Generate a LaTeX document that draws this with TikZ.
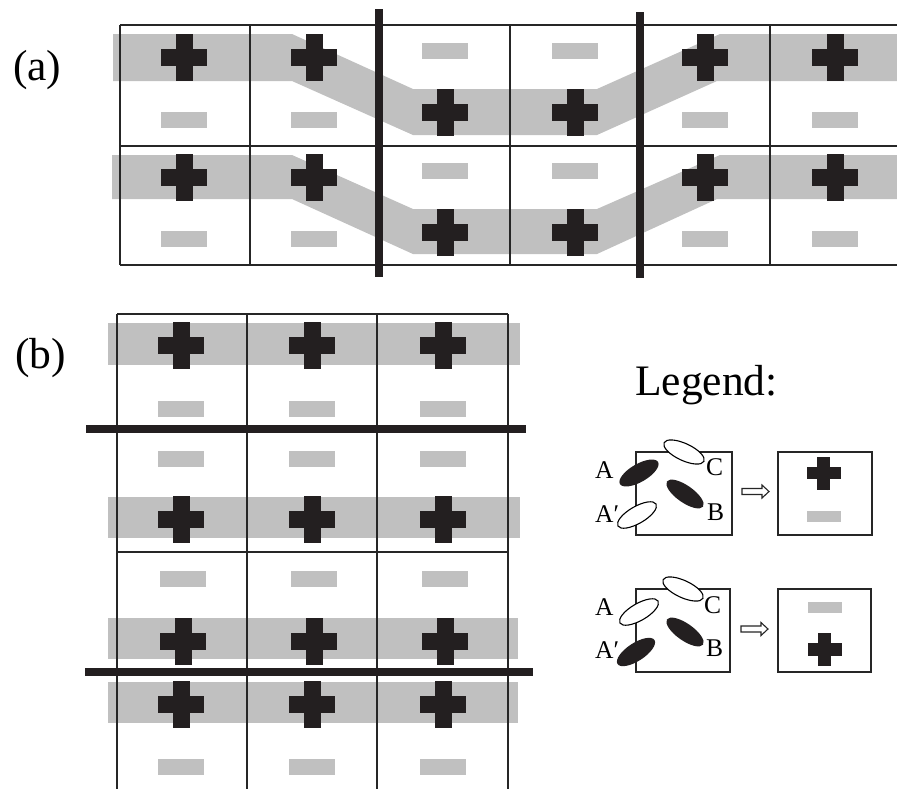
\documentclass[tikz,border=0pt]{standalone}
\usepackage{fontspec}
\setmainfont{Liberation Serif}
\begin{document}
\begin{tikzpicture}[x=1pt,y=-1pt,
  thin line/.style={draw=black!85,line width=1.4pt},
  thick bar/.style={draw=dk,line width=8pt},
  band/.style={fill=gr},
  pls/.pic={\fill[dk] (-23,-8.5) rectangle (23,8.5); \fill[dk] (-8.5,-23.5) rectangle (8.5,23.5);},
  mns/.pic={\fill[gr] (-23,-8) rectangle (23,8);},
  spls/.pic={\fill[dk] (-17,-6.2) rectangle (17,6.2); \fill[dk] (-6.5,-16.5) rectangle (6.5,16.5);},
  smns/.pic={\fill[gr] (-17,-5.5) rectangle (17,5.5);},
  lbl/.style={anchor=base west,inner sep=0pt,font=\fontsize{43.5}{48}\selectfont},
  let/.style={anchor=base west,inner sep=0pt,font=\fontsize{25.5}{28}\selectfont},
  lbox/.style={draw=black!85,line width=1.3pt},
  openell/.style={draw=black,fill=white,line width=1.1pt},
  fillell/.style={fill=dk},
  harrow/.style={draw=black!85,fill=white,line width=1.1pt}
]
\definecolor{dk}{HTML}{231F20}
\definecolor{gr}{HTML}{C0C0C0}
\clip (0,0) rectangle (897,788);
\fill[white] (0,0) rectangle (897,788);

% ---------------- (a) ----------------
\node[lbl] (la) at (13,80) {(a)};
\fill[band] (113,34) -- (292,34) -- (413,89) -- (597,89) -- (720,34) -- (900,34)
  -- (900,81) -- (717,81) -- (597,135) -- (413,135) -- (292,81) -- (113,81) -- cycle;
\fill[band] (112,155) -- (292,155) -- (413,209) -- (597,209) -- (720,155) -- (900,155)
  -- (900,199) -- (717,199) -- (597,254) -- (413,254) -- (292,199) -- (112,199) -- cycle;
\foreach \yy in {25,146,265} \draw[thin line] (120,\yy) -- (905,\yy);
\foreach \xx in {120,250,510,770} \draw[thin line] (\xx,25) -- (\xx,265);
\draw[thick bar] (379,9) -- (379,277);
\draw[thick bar] (640,12) -- (640,278);
\foreach \xx in {184,314,705,835} {
  \pic at (\xx,57.5) {pls}; \pic at (\xx,120) {mns};
  \pic at (\xx,177) {pls}; \pic at (\xx,239) {mns};
}
\foreach \xx in {445,575} {
  \pic at (\xx,50.5) {mns}; \pic at (\xx,112.5) {pls};
  \pic at (\xx,170.5) {mns}; \pic at (\xx,232) {pls};
}

% ---------------- (b) ----------------
\node[lbl] (lb) at (15,368) {(b)};
\fill[band] (108,323) rectangle (520,365);
\fill[band] (108,497) rectangle (520,538);
\fill[band] (108,618) rectangle (518,659);
\fill[band] (108,682) rectangle (518,723);
\foreach \xx in {117,247,508} \draw[thin line] (\xx,314) -- (\xx,795);
\draw[thin line,line width=2pt] (377,314) -- (377,795);
\draw[thin line] (117,314) -- (508,314);
\draw[thin line] (117,552) -- (508,552);
\draw[thick bar] (86,429) -- (526,429);
\draw[thick bar] (85,672) -- (533,672);
\foreach \xx in {181,312,443} {
  \pic at (\xx,345) {pls}; \pic at (\xx,409) {mns};
  \pic at (\xx,458.5) {mns}; \pic at (\xx,519) {pls};
  \pic at (\xx+2,579) {mns}; \pic at (\xx+2,641) {pls};
  \pic at (\xx,704.5) {pls}; \pic at (\xx,766.5) {mns};
}

% ---------------- Legend ----------------
\node[lbl] (lg) at (635,395) {Legend:};

% upper legend entry
\draw[lbox] (636,452) rectangle (732,535);
\fill[fillell,rotate around={30:(639,473)}] (639,473) ellipse [x radius=22pt,y radius=9pt];
\draw[openell,rotate around={-25:(684,452)}] (684,452) ellipse [x radius=22pt,y radius=8.5pt];
\fill[fillell,rotate around={-35:(685,494)}] (685,494) ellipse [x radius=22pt,y radius=8.5pt];
\draw[openell,rotate around={30:(637,515)}] (637,515) ellipse [x radius=22pt,y radius=8.5pt];
\node[let] (ua) at (595,478) {A};
\node[let] (uc) at (706,475) {C};
\node[let] (uap) at (595,522) {A′};
\node[let] (ub) at (707,520) {B};
\draw[harrow] (742,488.5) -- (762,488.5) -- (762,485) -- (769,491.5) -- (762,498) -- (762,494.5) -- (742,494.5) -- cycle;
\draw[lbox] (778,452) rectangle (872,535);
\pic at (823.5,473) {spls};
\pic at (823.5,516.5) {smns};

% lower legend entry
\draw[lbox] (636,589) rectangle (730,672);
\draw[openell,rotate around={-25:(683,589)}] (683,589) ellipse [x radius=22pt,y radius=8.5pt];
\draw[openell,rotate around={30:(639,612)}] (639,612) ellipse [x radius=22pt,y radius=8.5pt];
\fill[fillell,rotate around={-35:(685,632)}] (685,632) ellipse [x radius=22pt,y radius=8.5pt];
\fill[fillell,rotate around={33:(636,652)}] (636,652) ellipse [x radius=22pt,y radius=9pt];
\node[let] (la2) at (595,615) {A};
\node[let] (lc2) at (704,613) {C};
\node[let] (lap2) at (595,658) {A′};
\node[let] (lb2) at (706,656) {B};
\draw[harrow] (741,626) -- (761,626) -- (761,622.5) -- (768,629) -- (761,635.5) -- (761,632) -- (741,632) -- cycle;
\draw[lbox] (778,589) rectangle (871,672);
\pic at (824.5,607.5) {smns};
\pic at (824.5,649.5) {spls};
\end{tikzpicture}
\end{document}
